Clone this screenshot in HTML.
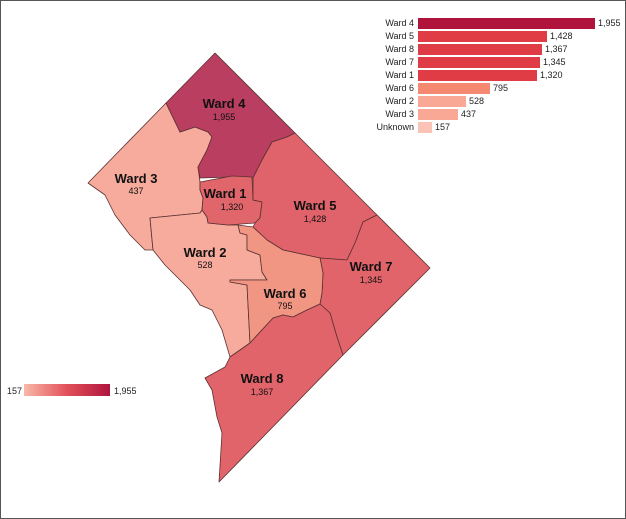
<!DOCTYPE html>
<html><head><style>
body{margin:0;background:#fff;}
.f{position:absolute;left:0;top:0;width:624px;height:517px;border:1px solid #555;}
text{font-family:"Liberation Sans",Arial,sans-serif;}
</style></head><body>
<div class="f"></div>
<svg width="626" height="519" style="position:absolute;left:0;top:0">
<g stroke="#5a3030" stroke-width="0.8" stroke-linejoin="round">
<polygon fill="#f6ab9c" points="166,103 88,183 105,195 115,215 130,235 145,250 153,250 150,218 200,213 202,210 203,198 200,190 200,182 198,167 207,150 212,137 208,132 195,127 180,132"/>
<polygon fill="#f6ab9c" points="153,250 150,218 200,213 202,210 207,217 208,223 228,225 238,225 240,233 247,235 247,250 260,255 262,272 267,280 230,280 230,282 247,285 250,343 230,357 222,330 212,310 200,305 190,290 178,278 165,265"/>
<polygon fill="#b93e60" points="215,53 295,133 287,137 272,142 262,160 253,178 233,177 200,178 198,167 207,150 212,137 208,132 195,127 180,132 166,103"/>
<polygon fill="#e0666c" points="200,182 232,176 252,177 253,200 262,202 260,218 255,223 228,225 208,223 207,217 202,210 203,198 200,190"/>
<polygon fill="#e0626a" points="253,178 262,160 272,142 287,137 295,133 377,215 363,222 355,243 347,260 320,258 283,250 267,240 253,227 255,223 260,218 262,202 253,200"/>
<polygon fill="#e2646b" points="377,215 430,268 343,355 337,337 330,313 320,304 322,293 323,273 320,258 347,260 355,243 363,222"/>
<polygon fill="#f29684" points="253,227 267,240 283,250 320,258 323,273 322,293 320,304 307,310 293,317 283,315 273,318 250,343 247,285 230,282 230,280 267,280 262,272 260,255 247,250 247,235 240,233 238,225"/>
<polygon fill="#e2646b" points="230,357 250,343 273,318 283,315 293,317 307,310 320,304 330,313 337,337 343,355 219,482 222,433 217,417 212,390 205,378 225,367"/>
</g>
<g text-anchor="middle" fill="#111">
<text x="224" y="108" font-size="13" font-weight="bold">Ward 4</text><text x="224" y="120" font-size="9">1,955</text>
<text x="136" y="183" font-size="13" font-weight="bold">Ward 3</text><text x="136" y="194" font-size="9">437</text>
<text x="225" y="198" font-size="13" font-weight="bold">Ward 1</text><text x="232" y="210" font-size="9">1,320</text>
<text x="315" y="210" font-size="13" font-weight="bold">Ward 5</text><text x="315" y="222" font-size="9">1,428</text>
<text x="205" y="257" font-size="13" font-weight="bold">Ward 2</text><text x="205" y="268" font-size="9">528</text>
<text x="371" y="271" font-size="13" font-weight="bold">Ward 7</text><text x="371" y="283" font-size="9">1,345</text>
<text x="285" y="298" font-size="13" font-weight="bold">Ward 6</text><text x="285" y="309" font-size="9">795</text>
<text x="262" y="383" font-size="13" font-weight="bold">Ward 8</text><text x="262" y="395" font-size="9">1,367</text>
</g>
<g font-size="9" fill="#222">
<g text-anchor="end">
<text x="414" y="26">Ward 4</text><text x="414" y="39">Ward 5</text><text x="414" y="52">Ward 8</text><text x="414" y="65">Ward 7</text><text x="414" y="78">Ward 1</text><text x="414" y="91">Ward 6</text><text x="414" y="104">Ward 2</text><text x="414" y="117">Ward 3</text><text x="414" y="130">Unknown</text>
</g>
<rect x="418" y="18" width="177" height="11" fill="#b0143c"/>
<rect x="418" y="31" width="129" height="11" fill="#e03c45"/>
<rect x="418" y="44" width="124" height="11" fill="#e03c45"/>
<rect x="418" y="57" width="122" height="11" fill="#e03c45"/>
<rect x="418" y="70" width="119" height="11" fill="#e03c45"/>
<rect x="418" y="83" width="72" height="11" fill="#f58870"/>
<rect x="418" y="96" width="48" height="11" fill="#f9a896"/>
<rect x="418" y="109" width="40" height="11" fill="#f9a896"/>
<rect x="418" y="122" width="14" height="11" fill="#fbc3b6"/>
<text x="598" y="26">1,955</text><text x="550" y="39">1,428</text><text x="545" y="52">1,367</text><text x="543" y="65">1,345</text><text x="540" y="78">1,320</text><text x="493" y="91">795</text><text x="469" y="104">528</text><text x="461" y="117">437</text><text x="435" y="130">157</text>
</g>
<defs><linearGradient id="g"><stop offset="0" stop-color="#f9b8a8"/><stop offset="0.5" stop-color="#e2505a"/><stop offset="1" stop-color="#b0143c"/></linearGradient></defs>
<rect x="24" y="384" width="86" height="12" fill="url(#g)"/>
<text x="7" y="394" font-size="9" fill="#222">157</text>
<text x="114" y="394" font-size="9" fill="#222">1,955</text>
</svg>
</body></html>
